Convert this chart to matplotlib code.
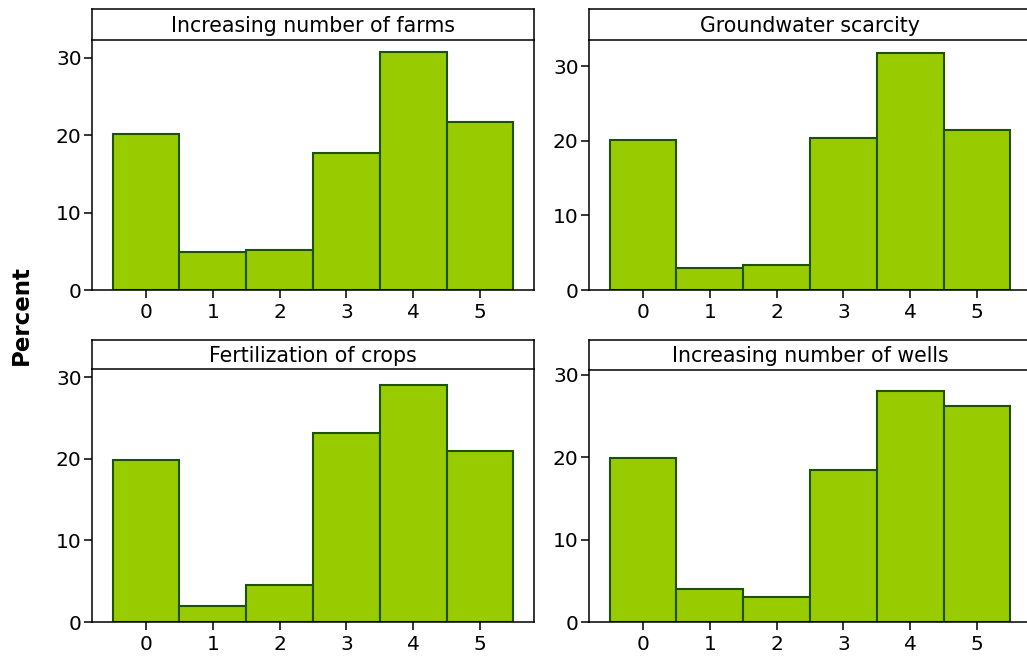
import matplotlib
matplotlib.use('Agg')
import matplotlib.pyplot as plt
import numpy as np

plt.rcParams['font.family'] = ['DejaVu Sans']

# scores on the x axis and the percentage for each panel
scores = [0, 1, 2, 3, 4, 5]
farms = [20.2, 4.9, 5.2, 17.7, 30.8, 21.7]
groundwater = [20.1, 3.0, 3.3, 20.4, 31.7, 21.4]
fertilization = [19.8, 1.9, 4.5, 23.1, 29.0, 21.0]
wells = [19.9, 4.0, 3.0, 18.5, 28.1, 26.2]

titles = ['Increasing number of farms', 'Groundwater scarcity',
          'Fertilization of crops', 'Increasing number of wells']
series = [farms, groundwater, fertilization, wells]
ytops = [32.3, 33.5, 31.0, 30.6]

W, H = 1027, 660
fig = plt.figure(figsize=(W / 100, H / 100), dpi=100)

# pixel boxes: left, right, plot top, plot bottom, strip top
boxes = [(92, 534, 40, 290, 9),
         (589, 1031, 40, 290, 9),
         (92, 534, 369, 622, 340),
         (589, 1031, 370, 622, 340)]

fill = '#99CC00'
edge = '#1E5200'

for (l, r, t, b, st), title, vals, ytop in zip(boxes, titles, series, ytops):
    ax = fig.add_axes([l / W, 1 - b / H, (r - l) / W, (b - t) / H])
    ax.bar(scores, vals, width=1.0, color=fill, edgecolor=edge, linewidth=1.5)
    ax.set_xlim(-0.81, 5.81)
    ax.set_ylim(0, ytop)
    ax.set_xticks(scores)
    ax.set_yticks([0, 10, 20, 30])
    ax.tick_params(axis='both', labelsize=14.5, length=5.5, width=1.1, color='black')
    ax.tick_params(axis='x', pad=4)
    ax.tick_params(axis='y', pad=2)
    for s in ax.spines.values():
        s.set_linewidth(1.1)
    ax.spines['top'].set_visible(False)

    sx = fig.add_axes([l / W, 1 - t / H, (r - l) / W, (t - st) / H])
    sx.set_xticks([])
    sx.set_yticks([])
    for s in sx.spines.values():
        s.set_linewidth(1.1)
    sx.text(0.5, 0.45, title, ha='center', va='center', fontsize=14.8,
            transform=sx.transAxes)

fig.text(21 / W, 1 - 315 / H, 'Percent', rotation=90, ha='center', va='center',
         fontsize=16.5, fontweight='bold')

fig.savefig('out.png', dpi=100)
